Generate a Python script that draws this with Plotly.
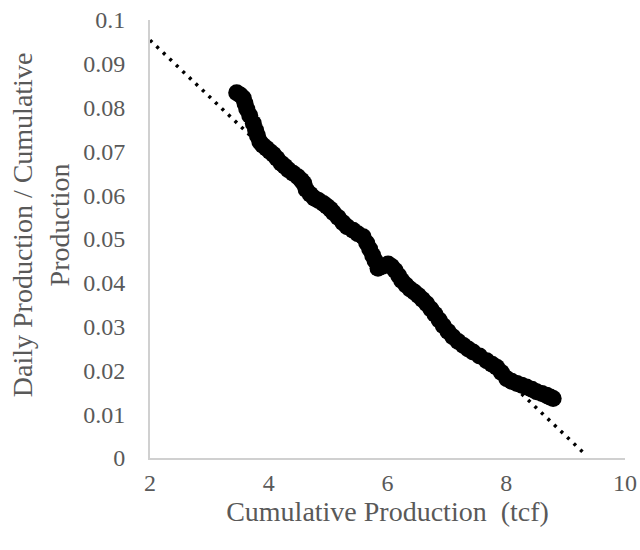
import plotly.graph_objects as go

# Observed points (cumulative production in tcf vs. daily/cumulative ratio)
cum_prod = [3.46, 3.52, 3.57, 3.60, 3.63, 3.68, 3.74, 3.78, 3.81, 3.85, 3.90, 3.96,
            4.02, 4.08, 4.14, 4.21, 4.27, 4.33, 4.41, 4.49, 4.55, 4.59, 4.63, 4.70,
            4.77, 4.84, 4.92, 4.98, 5.04, 5.09, 5.17, 5.25, 5.32, 5.42, 5.50, 5.59,
            5.65, 5.70, 5.75, 5.79, 5.84, 5.92, 6.01, 6.07, 6.13, 6.19, 6.24, 6.31,
            6.38, 6.45, 6.52, 6.59, 6.66, 6.73, 6.80, 6.87, 6.94, 7.02, 7.10, 7.19,
            7.28, 7.36, 7.44, 7.55, 7.67, 7.76, 7.84, 7.92, 8.01, 8.09, 8.18, 8.26,
            8.34, 8.43, 8.51, 8.60, 8.68, 8.74, 8.79]
ratio = [0.0834, 0.0829, 0.0822, 0.0810, 0.0797, 0.0782, 0.0764, 0.0748, 0.0736, 0.0722, 0.0714, 0.0707,
         0.0700, 0.0693, 0.0684, 0.0673, 0.0666, 0.0658, 0.0650, 0.0642, 0.0634, 0.0627, 0.0613, 0.0602,
         0.0593, 0.0588, 0.0581, 0.0575, 0.0568, 0.0560, 0.0549, 0.0537, 0.0528, 0.0520, 0.0512, 0.0505,
         0.0491, 0.0477, 0.0463, 0.0451, 0.0433, 0.0438, 0.0443, 0.0437, 0.0428, 0.0416, 0.0405, 0.0395,
         0.0386, 0.0379, 0.0371, 0.0362, 0.0352, 0.0340, 0.0328, 0.0315, 0.0302, 0.0289, 0.0277, 0.0266,
         0.0257, 0.0249, 0.0242, 0.0233, 0.0222, 0.0214, 0.0207, 0.0195, 0.0181, 0.0175, 0.0170, 0.0166,
         0.0162, 0.0157, 0.0151, 0.0147, 0.0143, 0.0139, 0.0136]

# Linear trendline end points
trend_x = [2.0, 9.34]
trend_y = [0.0954, 0.0007]

x_ticks = [2, 4, 6, 8, 10]
y_ticks = [0, 0.01, 0.02, 0.03, 0.04, 0.05, 0.06, 0.07, 0.08, 0.09, 0.1]
y_tick_text = ["0", "0.01", "0.02", "0.03", "0.04", "0.05", "0.06", "0.07", "0.08", "0.09", "0.1"]

FONT = "Liberation Serif"
GREY = "#595959"

fig = go.Figure()
fig.add_trace(go.Scatter(
    x=trend_x, y=trend_y, mode="lines",
    line=dict(color="black", width=3.5, dash="3px,6px"),
    hoverinfo="skip", showlegend=False))
fig.add_trace(go.Scatter(
    x=cum_prod, y=ratio, mode="markers",
    marker=dict(color="black", size=17, line=dict(width=0)),
    showlegend=False))

fig.update_layout(
    width=640, height=550,
    margin=dict(l=150, r=15, t=20, b=92, autoexpand=False),
    plot_bgcolor="white", paper_bgcolor="white",
    font=dict(family=FONT, color=GREY, size=24),
    xaxis=dict(range=[2, 10], tickvals=x_ticks, showgrid=False, zeroline=False,
               showline=True, linecolor="#d0d0d0", linewidth=2, automargin=False,
               ticks="", ticklabelstandoff=2,
               tickfont=dict(family=FONT, size=24, color=GREY),
               title=dict(text="Cumulative Production  (tcf)", standoff=0,
                          font=dict(family=FONT, size=28, color=GREY))),
    yaxis=dict(range=[0, 0.1], tickvals=y_ticks, ticktext=y_tick_text,
               showgrid=False, zeroline=False, automargin=False,
               showline=True, linecolor="#d0d0d0", linewidth=2,
               ticks="", ticklabelstandoff=18,
               tickfont=dict(family=FONT, size=24, color=GREY)),
    annotations=[dict(
        text="Daily Production / Cumulative<br>Production",
        xref="paper", yref="paper", x=-0.229, y=0.532,
        xanchor="center", yanchor="middle", textangle=-90, showarrow=False,
        font=dict(family=FONT, size=28, color=GREY))],
)

# remove the browser's default 8px body margin so the figure sits at the page corner
fig.write_html("out.html", config={"displayModeBar": False},
               post_script="document.body.style.margin='0';")
